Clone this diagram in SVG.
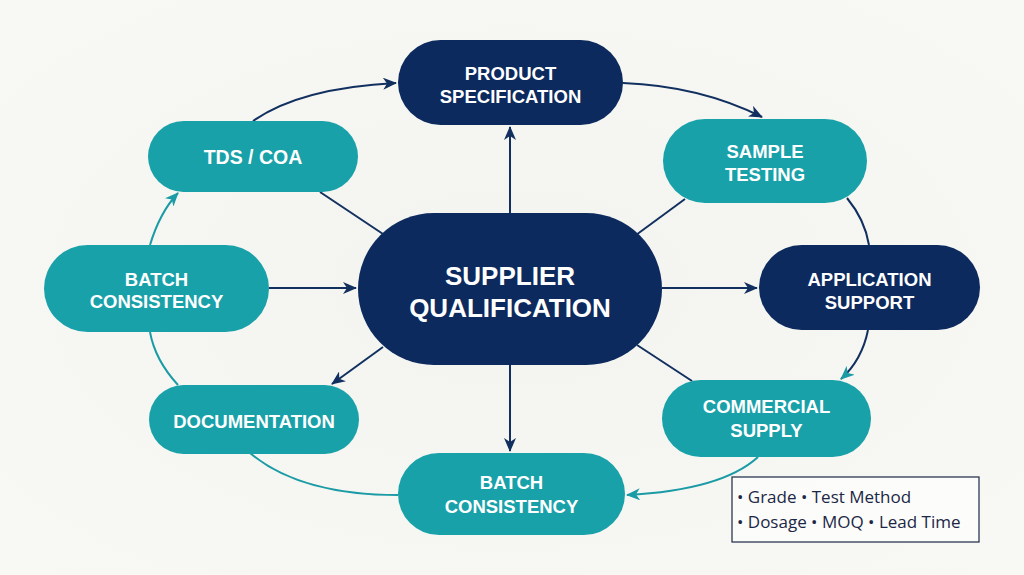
<svg xmlns="http://www.w3.org/2000/svg" width="1024" height="575" viewBox="0 0 1024 575">
  <defs>
    <style>
      .navy { fill: #0c2a5e; }
      .teal { fill: #19a1a9; }
      .lbl { font-family: "Liberation Sans", Arial, sans-serif; font-weight: bold; fill: #ffffff; text-anchor: middle; font-size: 18.5px; }
      .big { font-size: 26px; }
      .cn { fill: none; stroke: #12305f; stroke-width: 2; }
      .ct { fill: none; stroke: #1a9ba5; stroke-width: 2; }
      .legend { font-family: "Open Sans", "Liberation Sans", sans-serif; font-size: 17px; fill: #1b2745; }
    </style>
    <marker id="an" viewBox="0 0 14 12" refX="13" refY="6" markerWidth="14" markerHeight="12" markerUnits="userSpaceOnUse" orient="auto">
      <path d="M0,0 L14,6 L0,12 L4,6 z" fill="#12305f"/>
    </marker>
    <marker id="at" viewBox="0 0 14 12" refX="13" refY="6" markerWidth="14" markerHeight="12" markerUnits="userSpaceOnUse" orient="auto">
      <path d="M0,0 L14,6 L0,12 L4,6 z" fill="#1a9ba5"/>
    </marker>
    <radialGradient id="bg" cx="50%" cy="50%" r="70%">
      <stop offset="0" stop-color="#f3f4ef"/>
      <stop offset="1" stop-color="#f8f8f5"/>
    </radialGradient>
  </defs>

  <rect x="0" y="0" width="1024" height="575" fill="url(#bg)"/>

  <g id="connectors">
    <!-- ring -->
    <path class="cn" d="M253,121 Q300,88 396,83" marker-end="url(#an)"/>
    <path class="cn" d="M623,83 Q700,86 762,117" marker-end="url(#an)"/>
    <path class="cn" d="M847,198 Q865,220 869,245"/>
    <path class="cn" d="M868,330 Q862,360 841,379" marker-end="url(#at)"/>
    <path class="ct" d="M758,457 Q722,490 627,495" marker-end="url(#at)"/>
    <path class="ct" d="M250,453 Q300,495 398,495"/>
    <path class="ct" d="M178,385 Q155,360 150,332"/>
    <path class="ct" d="M150,245 Q160,212 178,193" marker-end="url(#at)"/>
    <!-- spokes -->
    <path class="cn" d="M510,213 L510,127" marker-end="url(#an)"/>
    <path class="cn" d="M320,192 L386,236"/>
    <path class="cn" d="M685,199 L636,235"/>
    <path class="cn" d="M662,288 L757,288" marker-end="url(#an)"/>
    <path class="cn" d="M269,288 L356,288" marker-end="url(#an)"/>
    <path class="cn" d="M383,347 L332,384" marker-end="url(#an)"/>
    <path class="cn" d="M510,365 L510,451" marker-end="url(#an)"/>
    <path class="cn" d="M637,345 L692,381"/>
  </g>

  <g id="supplier-qualification">
    <rect class="navy" x="358" y="213" width="304" height="152" rx="76"/>
    <text class="lbl big" x="510" y="285">SUPPLIER</text>
    <text class="lbl big" x="510" y="317">QUALIFICATION</text>
  </g>

  <g id="product-specification">
    <rect class="navy" x="398" y="40" width="225" height="85" rx="42.5"/>
    <text class="lbl" x="510.5" y="80">PRODUCT</text>
    <text class="lbl" x="510.5" y="103">SPECIFICATION</text>
  </g>

  <g id="tds-coa">
    <rect class="teal" x="148" y="121" width="210" height="71" rx="35.5"/>
    <text class="lbl" x="253" y="164" style="font-size:19.5px">TDS / COA</text>
  </g>

  <g id="sample-testing">
    <rect class="teal" x="663" y="119" width="204" height="84" rx="42"/>
    <text class="lbl" x="765" y="158">SAMPLE</text>
    <text class="lbl" x="765" y="181">TESTING</text>
  </g>

  <g id="application-support">
    <rect class="navy" x="759" y="245" width="221" height="85" rx="42.5"/>
    <text class="lbl" x="869.5" y="286">APPLICATION</text>
    <text class="lbl" x="869.5" y="309">SUPPORT</text>
  </g>

  <g id="batch-consistency-left">
    <rect class="teal" x="44" y="245" width="225" height="87" rx="43.5"/>
    <text class="lbl" x="156.5" y="286">BATCH</text>
    <text class="lbl" x="156.5" y="308">CONSISTENCY</text>
  </g>

  <g id="documentation">
    <rect class="teal" x="149" y="385" width="210" height="69" rx="34.5"/>
    <text class="lbl" x="254" y="428">DOCUMENTATION</text>
  </g>

  <g id="commercial-supply">
    <rect class="teal" x="662" y="380" width="209" height="77" rx="38.5"/>
    <text class="lbl" x="766.5" y="413">COMMERCIAL</text>
    <text class="lbl" x="766.5" y="437">SUPPLY</text>
  </g>

  <g id="batch-consistency-bottom">
    <rect class="teal" x="398" y="453" width="227" height="82" rx="41"/>
    <text class="lbl" x="511.5" y="489">BATCH</text>
    <text class="lbl" x="511.5" y="513">CONSISTENCY</text>
  </g>

  <g id="legend">
    <rect x="732" y="477" width="247" height="65" fill="#ffffff" fill-opacity="0.6" stroke="#1b2745" stroke-width="1.2"/>
    <text class="legend" x="737" y="503">• Grade • Test Method</text>
    <text class="legend" x="737" y="528">• Dosage • MOQ • Lead Time</text>
  </g>
</svg>
